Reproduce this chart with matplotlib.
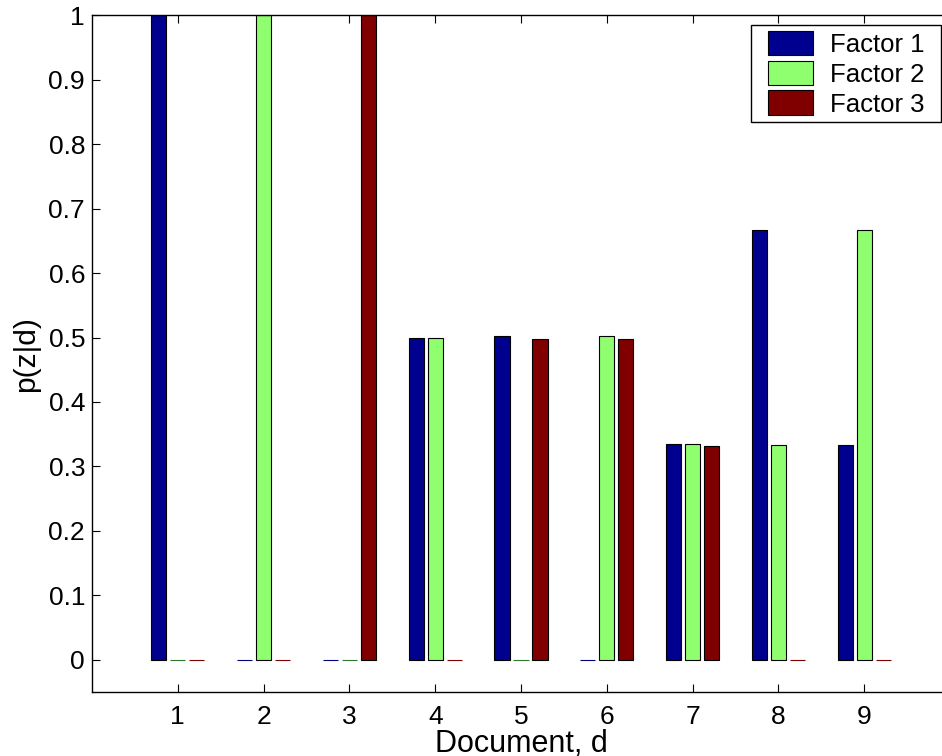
import matplotlib
matplotlib.use('agg')
import matplotlib.pyplot as plt
from matplotlib.patches import Rectangle
from matplotlib.legend_handler import HandlerPatch
import numpy as np

documents = [1, 2, 3, 4, 5, 6, 7, 8, 9]
factor1 = [1.0, 0.0, 0.0, 0.5, 0.503, 0.0, 0.335, 0.667, 0.333]
factor2 = [0.0, 1.0, 0.0, 0.5, 0.0, 0.503, 0.335, 0.333, 0.667]
factor3 = [0.0, 0.0, 1.0, 0.0, 0.497, 0.497, 0.332, 0.0, 0.0]
labels = ['Factor 1', 'Factor 2', 'Factor 3']
yticks = [0, 0.1, 0.2, 0.3, 0.4, 0.5, 0.6, 0.7, 0.8, 0.9, 1]

colors = ['#00008f', '#8fff70', '#800000']
zeroColors = ['#000080', '#2f7a2f', '#800000']

plt.rcParams['font.family'] = ['Liberation Sans', 'DejaVu Sans']


def insetPatch(legend, orig_handle, xdescent, ydescent, width, height, fontsize):
    # leave some room on the left like the matlab legend does
    off = 8.0
    return Rectangle((-xdescent + off, -ydescent), width - off, height)


def styleFromBars(legHandle, orig):
    legHandle.set_facecolor(orig.patches[0].get_facecolor())
    legHandle.set_edgecolor('black')
    legHandle.set_linewidth(0.8)


W, H = 942, 756
fig = plt.figure(figsize=(W / 100, H / 100), dpi=100)
left, right, top, bottom = 92, 950, 15.3, 692
ax = fig.add_axes([left / W, 1 - bottom / H, (right - left) / W, (bottom - top) / H])

x = np.array(documents, dtype=float)
slot = 0.222
width = 0.178
for i, (vals, lab) in enumerate(zip([factor1, factor2, factor3], labels)):
    offs = (i - 1) * slot
    edges = ['black' if v > 0 else zeroColors[i] for v in vals]
    ax.bar(x + offs, vals, width=width, color=colors[i], edgecolor=edges,
           linewidth=0.8, label=lab, zorder=2)

ax.set_xlim(0, 10)
ax.set_ylim(-0.05, 1)
ax.set_xticks(documents)
ax.set_yticks(yticks)
ax.set_yticklabels(['0', '0.1', '0.2', '0.3', '0.4', '0.5', '0.6', '0.7', '0.8', '0.9', '1'])
ax.tick_params(direction='in', length=6, width=0.8, top=True, right=True,
               labelsize=19)
ax.tick_params(axis='x', pad=9)
ax.tick_params(axis='y', pad=5)
for s in ax.spines.values():
    s.set_linewidth(1.0)

ax.set_xlabel('Document, d', fontsize=22)
ax.set_ylabel('p(z|d)', fontsize=21.5)
ax.xaxis.set_label_coords((521 - left) / (right - left), -(729 - bottom) / (bottom - top))
ax.yaxis.set_label_coords(-(92 - 40) / (right - left), (bottom - 354) / (bottom - top))

handles, labs = ax.get_legend_handles_labels()
hmap = {h: HandlerPatch(patch_func=insetPatch, update_func=styleFromBars) for h in handles}
# legend box spans x 751..941, y 25..123 in the reference
leg = ax.legend(handles, labs, loc='upper left', mode='expand',
                bbox_to_anchor=(751 / W, 1 - 123 / H, 190 / W, 98 / H),
                bbox_transform=fig.transFigure, borderaxespad=0, fontsize=18.5,
                fancybox=False, framealpha=1, edgecolor='black',
                handlelength=2.2, handleheight=1.1, labelspacing=0.15,
                borderpad=0.22, handletextpad=0.65, handler_map=hmap)
leg.get_frame().set_linewidth(1.0)

plt.savefig('out.png', dpi=100)
